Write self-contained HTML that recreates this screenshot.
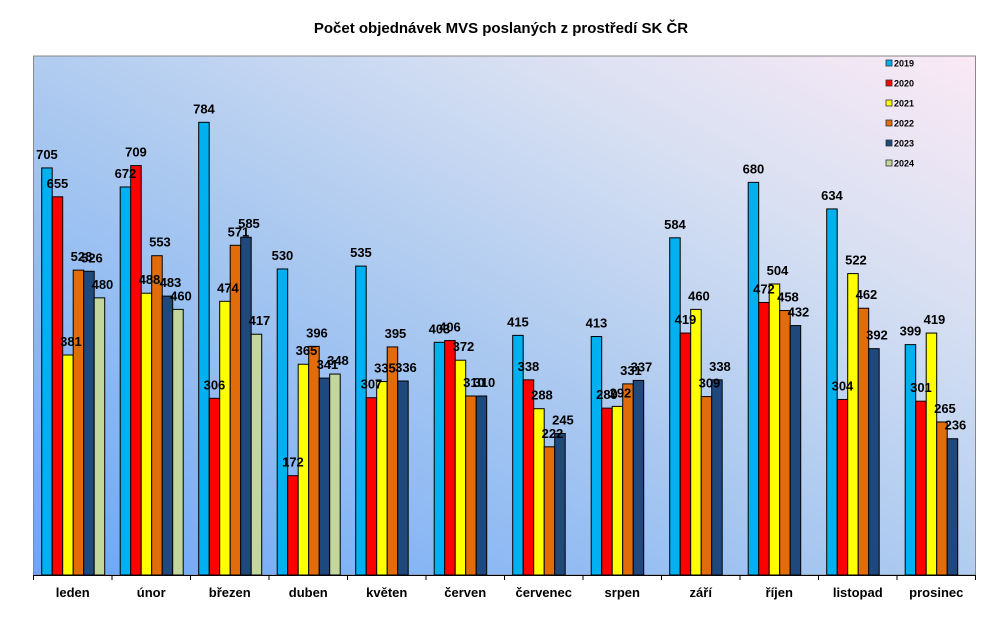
<!DOCTYPE html>
<html><head><meta charset="utf-8"><style>
html,body{margin:0;padding:0;background:#fff;}
svg{display:block;font-family:"Liberation Sans",Arial,sans-serif;}
</style></head><body>
<svg width="1001" height="625" viewBox="0 0 1001 625" xmlns="http://www.w3.org/2000/svg">
<defs>
<linearGradient id="bg" x1="0" y1="1" x2="1" y2="0">
<stop offset="0" stop-color="#6aa6f8"/>
<stop offset="0.45" stop-color="#a9c8f0"/>
<stop offset="0.75" stop-color="#d8e0f2"/>
<stop offset="1" stop-color="#fbe9f5"/>
</linearGradient>
</defs>
<text x="501" y="33" text-anchor="middle" font-size="15" font-weight="bold">Počet objednávek MVS poslaných z prostředí SK ČR</text>
<rect x="33.5" y="56" width="942" height="519" fill="url(#bg)" stroke="#888" stroke-width="1"/>
<g id="bars" stroke="#000" stroke-width="1"></g>
<g id="labels" font-size="13" font-weight="bold" text-anchor="middle"></g>
<line x1="33" y1="575.5" x2="975" y2="575.5" stroke="#000"/>
<g id="ticks" stroke="#000"></g>
<g id="cats" font-size="13" font-weight="bold" text-anchor="middle"></g>
<g font-size="9" font-weight="bold" stroke-width="0.8">
<rect x="886" y="60" width="6" height="6" fill="#00b0f0" stroke="#333"/><text x="894" y="66.5">2019</text>
<rect x="886" y="80" width="6" height="6" fill="#ff0000" stroke="#333"/><text x="894" y="86.5">2020</text>
<rect x="886" y="100" width="6" height="6" fill="#ffff00" stroke="#333"/><text x="894" y="106.5">2021</text>
<rect x="886" y="120" width="6" height="6" fill="#e36c0a" stroke="#333"/><text x="894" y="126.5">2022</text>
<rect x="886" y="140" width="6" height="6" fill="#1f497d" stroke="#333"/><text x="894" y="146.5">2023</text>
<rect x="886" y="160" width="6" height="6" fill="#c3d69b" stroke="#333"/><text x="894" y="166.5">2024</text>
</g>
<script>
var data=[[705,672,784,530,535,403,415,413,584,680,634,399],
[655,709,306,172,307,406,338,289,419,472,304,301],
[381,488,474,365,335,372,288,292,460,504,522,419],
[528,553,571,396,395,310,222,331,309,458,462,265],
[526,483,585,341,336,310,245,337,338,432,392,236],
[480,460,417,348,null,null,null,null,null,null,null,null]];
var cols=["#00b0f0","#ff0000","#ffff00","#e36c0a","#1f497d","#c3d69b"];
var cats=["leden","únor","březen","duben","květen","červen","červenec","srpen","září","říjen","listopad","prosinec"];
var ns="http://www.w3.org/2000/svg";
var B=document.getElementById("bars"),L=document.getElementById("labels"),T=document.getElementById("ticks"),C=document.getElementById("cats");
var cw=942/12,bw=10.5,base=575,k=0.5774;
function el(t,a,p){var e=document.createElementNS(ns,t);for(var i in a)e.setAttribute(i,a[i]);p.appendChild(e);return e;}
for(var c=0;c<=12;c++){var x=33.5+c*cw;el("line",{x1:x,y1:575,x2:x,y2:580},T);}
for(var c=0;c<12;c++){
 var x0=33.5+c*cw+8.2;
 var t=el("text",{x:33.5+c*cw+cw/2,y:597},C);t.textContent=cats[c];
 for(var s=0;s<6;s++){var v=data[s][c];if(v==null)continue;
  var x=x0+s*bw,h=v*k;
  el("rect",{x:x,y:base-h,width:bw,height:h,fill:cols[s]},B);
  var lt=el("text",{x:x+bw/2+(s>=2?3:0),y:base-h-9},L);lt.textContent=v;}
}
</script>
</svg>
</body></html>
